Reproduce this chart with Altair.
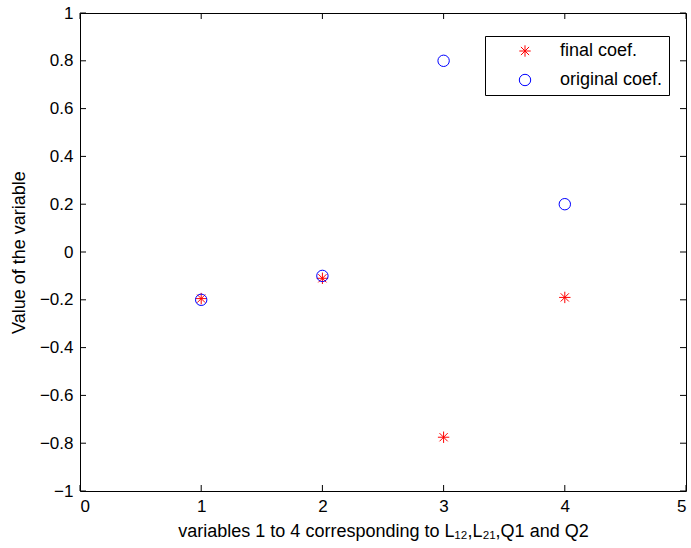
import altair as alt
import pandas as pd

x_vals = [1, 2, 3, 4]
final_coef = [-0.195, -0.11, -0.775, -0.19]
original_coef = [-0.2, -0.1, 0.8, 0.2]
series_names = ["final coef.", "original coef."]
x_ticks = [0, 1, 2, 3, 4, 5]
y_ticks = [-1, -0.8, -0.6, -0.4, -0.2, 0, 0.2, 0.4, 0.6, 0.8, 1]

W, H = 606, 478
FONT = "Liberation Sans"

rows = []
for xv, f in zip(x_vals, final_coef):
    rows.append({"x": xv, "v": f, "series": series_names[0]})
for xv, o in zip(x_vals, original_coef):
    rows.append({"x": xv, "v": o, "series": series_names[1]})
df = pd.DataFrame(rows)

xt = pd.DataFrame({"t": x_ticks})
yt = pd.DataFrame({"t": y_ticks})

xscale = alt.Scale(domain=[0, 5], nice=False, zero=False)
yscale = alt.Scale(domain=[-1, 1], nice=False, zero=False)

asterisk = "M0,-1L0,1M-1,0L1,0M-0.72,-0.72L0.72,0.72M-0.72,0.72L0.72,-0.72"

points = alt.Chart(df).mark_point(filled=False, strokeWidth=1, size=130, opacity=1).encode(
    x=alt.X("x:Q", scale=xscale,
            axis=alt.Axis(values=x_ticks, format="~g", title="variables 1 to 4 corresponding to L₁₂,L₂₁,Q1 and Q2",
                          grid=False, domain=False, ticks=False, tickSize=0, labelPadding=7,
                          titlePadding=8)),
    y=alt.Y("v:Q", scale=yscale,
            axis=alt.Axis(values=y_ticks, format="~g", title="Value of the variable",
                          grid=False, domain=False, ticks=False, tickSize=0, labelPadding=7,
                          titlePadding=11)),
    color=alt.Color("series:N", scale=alt.Scale(domain=series_names, range=["#ff0000", "#0000ff"]),
                    legend=alt.Legend(title=None, orient="none", legendX=405, legendY=23,
                                      strokeColor="black", padding=6, symbolOffset=25,
                                      labelOffset=26, rowPadding=11, labelFontSize=18,
                                      labelFont=FONT, labelColor="black", symbolSize=130,
                                      symbolStrokeWidth=1, fillColor="white")),
    shape=alt.Shape("series:N", scale=alt.Scale(domain=series_names, range=[asterisk, "circle"])),
)

tick_len = 6
bottom_ticks = alt.Chart(xt).mark_tick(orient="vertical", size=tick_len, thickness=1, color="black", opacity=1).encode(
    x=alt.X("t:Q", scale=xscale), y=alt.value(H - tick_len / 2))
top_ticks = alt.Chart(xt).mark_tick(orient="vertical", size=tick_len, thickness=1, color="black", opacity=1).encode(
    x=alt.X("t:Q", scale=xscale), y=alt.value(tick_len / 2))
left_ticks = alt.Chart(yt).mark_tick(orient="horizontal", size=tick_len, thickness=1, color="black", opacity=1).encode(
    y=alt.Y("t:Q", scale=yscale), x=alt.value(tick_len / 2))
right_ticks = alt.Chart(yt).mark_tick(orient="horizontal", size=tick_len, thickness=1, color="black", opacity=1).encode(
    y=alt.Y("t:Q", scale=yscale), x=alt.value(W - tick_len / 2))

chart = alt.layer(bottom_ticks, top_ticks, left_ticks, right_ticks, points).properties(
    width=W, height=H,
    autosize=alt.AutoSizeParams(type="none"),
    padding={"left": 80, "top": 13, "right": 5, "bottom": 57},
).configure(background="white", font=FONT).configure_view(
    stroke="black", strokeWidth=1
).configure_axis(
    labelFont=FONT, labelFontSize=17, labelColor="black",
    titleFont=FONT, titleFontSize=18, titleColor="black", titleFontWeight="normal",
)

chart.save("out.html", embed_options={"renderer": "svg", "actions": False})
